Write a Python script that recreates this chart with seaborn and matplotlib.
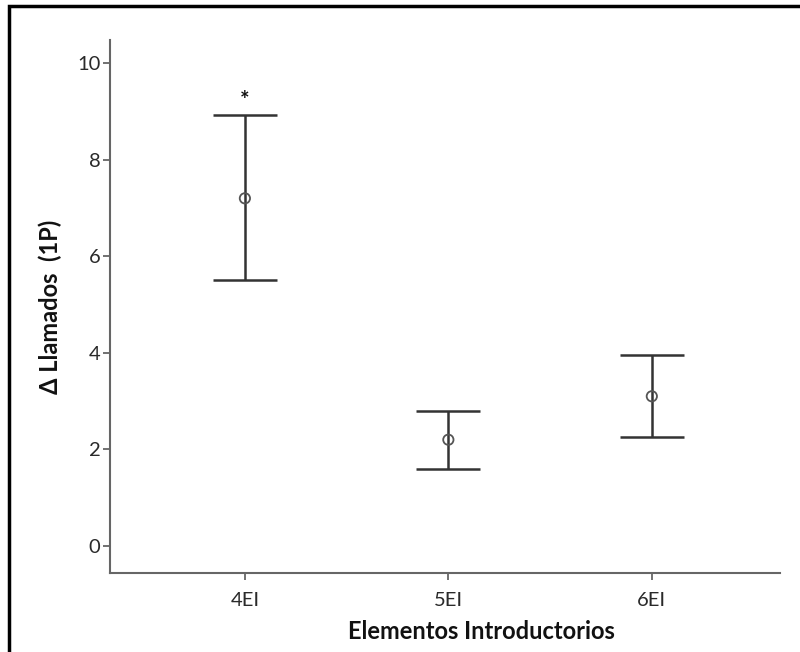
import matplotlib
matplotlib.use("Agg")
import matplotlib.pyplot as plt
import matplotlib.patches as patches
import seaborn as sns
import pandas as pd

categories = ["4EI", "5EI", "6EI"]
means = [7.2, 2.2, 3.1]
lower = [5.5, 1.6, 2.25]
upper = [8.93, 2.8, 3.95]
yticks = [0, 2, 4, 6, 8, 10]
sig_marks = ["*", "", ""]

df = pd.DataFrame({"cat": categories, "mean": means, "lo": lower, "hi": upper})

sns.set_theme(style="white")
plt.rcParams['font.family'] = ['Lato', 'DejaVu Sans']

fig = plt.figure(figsize=(8, 6.52), dpi=100)
ax = fig.add_axes([0.1375, 0.1212, 0.8375, 0.8175])

sns.scatterplot(data=df, x="cat", y="mean", ax=ax, marker="o", s=55,
                facecolor="none", edgecolor="#555555", linewidth=1.3, zorder=3)
xs = list(range(len(categories)))
yerr = [[m - l for m, l in zip(means, lower)], [h - m for m, h in zip(means, upper)]]
ax.errorbar(xs, means, yerr=yerr, fmt="none", ecolor="#333333", elinewidth=1.8,
            capsize=23, capthick=1.8, zorder=2)
for x, h, s in zip(xs, upper, sig_marks):
    if s:
        ax.text(x, h + 0.08, s, ha="center", va="bottom", fontsize=16, fontweight="bold", color="#111111")

ax.set_xlim(-0.663, 2.63)
ax.set_ylim(-0.56, 10.48)
ax.set_yticks(yticks)
ax.set_yticklabels([str(t) for t in yticks])
for s in ["top", "right"]:
    ax.spines[s].set_visible(False)
for s in ["left", "bottom"]:
    ax.spines[s].set_color("#666666")
    ax.spines[s].set_linewidth(1.5)
ax.tick_params(axis="both", which="both", length=5, width=1.3, color="#666666",
               labelsize=14.5, labelcolor="#2a2a2a", left=True, bottom=True)
ax.tick_params(axis="y", pad=2)
ax.tick_params(axis="x", pad=9)
ax.set_xlabel("Elementos Introductorios", fontsize=17, fontweight="bold", color="#111111")
ax.set_ylabel("Δ Llamados  (1P)", fontsize=17, fontweight="bold", color="#111111")
ax.xaxis.set_label_coords(0.555, -0.088)
ax.yaxis.set_label_coords(-0.072, 0.5)

rect = patches.Rectangle((0.011, -0.2), 1.2, 1.2 - 6 / 652, transform=fig.transFigure,
                         fill=False, edgecolor="black", linewidth=2.5)
fig.patches.append(rect)

fig.savefig("out.png", dpi=100)
